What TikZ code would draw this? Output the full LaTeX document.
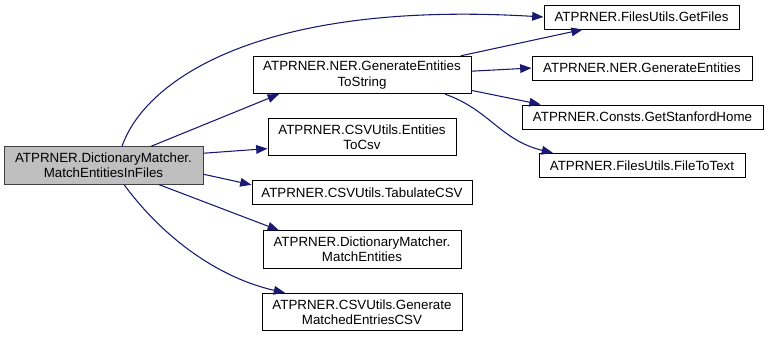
\documentclass[tikz,border=0pt]{standalone}
\usepackage{fontspec}
\setmainfont{Liberation Sans}
\usetikzlibrary{arrows.meta}
\begin{document}
\begin{tikzpicture}[
        x=0.75pt, y=-0.75pt,
        fn/.style={draw=black, line width=0.75pt, fill=white, align=center, inner sep=0pt,
          font=\fontsize{10}{11.5}\selectfont, minimum height=18pt},
        fntwo/.style={fn, minimum height=28pt},
        mainfn/.style={fntwo, draw=dgrey, fill=lgrey},
        call/.style={draw=navyc, line width=0.8pt, -{Triangle[length=8.5pt, width=6.5pt]}},
      ]
      \definecolor{navyc}{HTML}{191970}
      \definecolor{lgrey}{HTML}{BFBFBF}
      \definecolor{dgrey}{HTML}{404040}
      \path[use as bounding box] (0,0) rectangle (768,337);
      \node[mainfn, minimum width=149.25pt] (dm) at (103.5,165.5) {ATPRNER.DictionaryMatcher.\\MatchEntitiesInFiles};
      \node[fntwo, minimum width=163.5pt] (ner) at (362,75) {ATPRNER.NER.GenerateEntities\\ToString};
      \node[fntwo, minimum width=141pt] (csv) at (362,137) {ATPRNER.CSVUtils.Entities\\ToCsv};
      \node[fn, minimum width=165pt] (tab) at (362,192.5) {ATPRNER.CSVUtils.TabulateCSV};
      \node[fntwo, minimum width=148.5pt] (match) at (362,249.5) {ATPRNER.DictionaryMatcher.\\MatchEntities};
      \node[fntwo, minimum width=150pt] (gen) at (362,312) {ATPRNER.CSVUtils.Generate\\MatchedEntriesCSV};
      \node[fn, minimum width=146.25pt] (files) at (641.5,17) {ATPRNER.FilesUtils.GetFiles};
      \node[fn, minimum width=165pt] (ents) at (642,68) {ATPRNER.NER.GenerateEntities};
      \node[fn, minimum width=180.75pt] (home) at (642.5,117) {ATPRNER.Consts.GetStanfordHome};
      \node[fn, minimum width=154.5pt] (ftt) at (642,165.5) {ATPRNER.FilesUtils.FileToText};
      \draw[call] (dm.46) .. controls (145,80) and (260,0) .. (files.west);
      \draw[call] (dm.22) -- (ner.193);
      \draw[call] (dm.7) -- (csv.187);
      \draw[call] (dm.-5) -- (tab.176);
      \draw[call] (dm.-19) -- (match.167);
      \draw[call] (dm.-43) .. controls (165,240) and (220,278) .. (gen.166);
      \draw[call] (ner.11) -- (files.192);
      \draw[call] (ner.2) -- (ents.west);
      \draw[call] (ner.-8) -- (home.173);
      \draw[call] (ner.-13) .. controls (490,110) and (500,140) .. (ftt.172);
    \end{tikzpicture}
\end{document}
